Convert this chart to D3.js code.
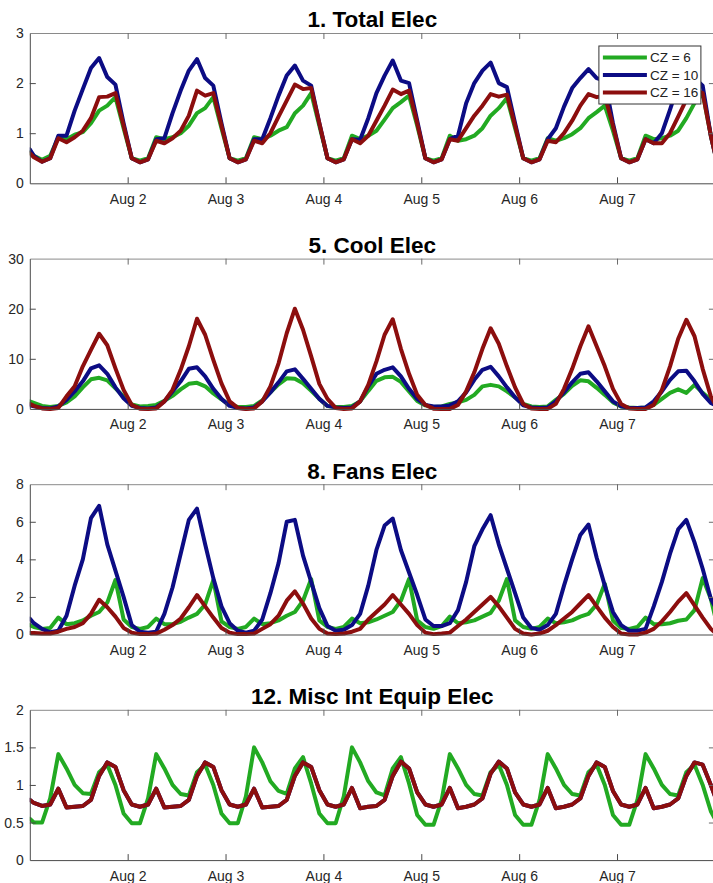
<!DOCTYPE html>
<html>
<head>
<meta charset="utf-8">
<script src="https://cdn.jsdelivr.net/npm/d3@7"></script>
<style>
  body { margin: 0; background: #fff; }
  svg { display: block; }
</style>
</head>
<body>
<div id="chart"></div>
<script>
// ---- data: hours since Aug 1 00:00, sampled at odd hours plus both ends
var hours = [0].concat(d3.range(1, 168, 2), [168]);

var dayHours = [24, 48, 72, 96, 120, 144];
var dayLabels = ["Aug 2", "Aug 3", "Aug 4", "Aug 5", "Aug 6", "Aug 7"];

var zoneNames = ["CZ = 6", "CZ = 10", "CZ = 16"];

// 1. Total Elec
var totalCZ6 = [0.62,
  0.55,0.47,0.55,0.92,0.88,0.97,1.02,1.2,1.45,1.55,1.72,1.1,
  0.5,0.45,0.5,0.92,0.88,0.92,1.0,1.15,1.4,1.5,1.72,1.1,
  0.5,0.45,0.5,0.92,0.88,0.95,1.05,1.12,1.4,1.55,1.8,1.15,
  0.5,0.45,0.5,0.95,0.88,0.95,1.05,1.27,1.5,1.62,1.75,1.15,
  0.5,0.45,0.5,0.95,0.85,0.88,0.95,1.1,1.35,1.5,1.7,1.1,
  0.5,0.45,0.5,0.9,0.85,0.9,0.98,1.1,1.3,1.42,1.55,1.05,
  0.5,0.45,0.5,0.95,0.88,0.9,0.95,1.05,1.3,1.6,1.8,0.95,
  0.6];
var totalCZ10 = [0.68,
  0.55,0.43,0.5,0.95,0.95,1.45,1.88,2.3,2.5,2.12,1.97,1.2,
  0.5,0.42,0.48,0.88,0.9,1.4,1.85,2.25,2.48,2.1,1.95,1.2,
  0.5,0.42,0.48,0.88,0.88,1.3,1.75,2.15,2.35,2.05,1.95,1.2,
  0.5,0.42,0.48,0.88,0.87,1.3,1.8,2.15,2.45,2.05,2.0,1.25,
  0.5,0.42,0.48,0.88,0.95,1.6,2.0,2.25,2.41,2.0,1.92,1.2,
  0.5,0.42,0.48,0.88,1.1,1.53,1.9,2.1,2.28,2.1,2.05,1.2,
  0.5,0.42,0.48,0.88,0.8,1.0,1.47,1.97,2.3,2.1,1.95,0.95,
  0.6];
var totalCZ16 = [0.6,
  0.52,0.43,0.5,0.9,0.82,0.92,1.05,1.3,1.72,1.73,1.8,1.15,
  0.5,0.42,0.48,0.85,0.8,0.9,1.05,1.35,1.85,1.75,1.8,1.15,
  0.5,0.42,0.48,0.85,0.8,1.0,1.33,1.65,1.97,1.88,1.9,1.2,
  0.5,0.42,0.48,0.88,0.8,0.95,1.25,1.55,1.87,1.78,1.85,1.2,
  0.5,0.42,0.48,0.88,0.85,1.1,1.35,1.55,1.78,1.73,1.77,1.15,
  0.5,0.42,0.48,0.85,0.82,1.0,1.25,1.55,1.78,1.72,1.75,1.15,
  0.5,0.42,0.48,0.88,0.8,0.8,1.0,1.33,1.67,1.87,1.8,0.95,
  0.6];

// 5. Cool Elec
var coolCZ6 = [1.5,
  1.2,0.6,0.4,0.6,1.3,2.5,4.3,5.9,6.2,5.7,4.1,2.5,
  0.9,0.5,0.6,0.8,1.6,2.6,3.9,5.0,5.2,4.5,3.1,1.9,
  0.8,0.4,0.4,0.6,1.7,3.3,4.9,6.1,6.0,5.1,3.6,2.0,
  0.6,0.4,0.4,0.6,1.5,3.6,5.6,6.3,6.4,5.4,3.5,1.6,
  0.7,0.4,0.5,1.0,1.3,1.8,2.8,4.5,4.8,4.5,3.5,2.3,
  1.0,0.5,0.4,0.5,1.8,3.0,4.6,5.7,5.5,4.2,2.8,1.3,
  0.5,0.3,0.2,0.3,0.8,2.0,3.2,3.9,3.2,4.8,3.2,1.8,
  1.2];
var coolCZ10 = [0.7,
  0.5,0.2,0.1,0.5,1.8,3.5,5.5,8.1,8.7,7.0,4.3,2.1,
  0.6,0.2,0.1,0.3,1.5,3.5,5.5,8.0,8.3,6.5,4.0,2.0,
  0.6,0.2,0.1,0.3,1.5,3.3,5.3,7.5,7.9,6.0,4.0,2.0,
  0.6,0.3,0.2,0.3,1.5,4.5,7.0,7.8,8.3,6.5,4.0,2.0,
  0.8,0.5,0.5,0.7,1.5,3.3,5.8,7.8,8.4,6.5,4.3,2.3,
  0.7,0.3,0.2,0.3,1.5,3.3,5.3,7.0,7.3,5.5,3.5,1.5,
  0.5,0.2,0.2,0.3,1.5,3.5,5.8,7.5,7.6,5.5,3.0,1.2,
  0.8];
var coolCZ16 = [1.0,
  0.6,0.1,0.0,0.2,2.5,4.5,8.5,11.8,15.0,12.7,8.1,3.8,
  0.8,0.05,0.0,0.1,1.5,3.8,7.8,12.5,18.0,14.8,9.8,5.1,
  1.5,0.2,0.0,0.1,1.5,4.5,9.1,15.1,20.0,15.8,10.5,5.0,
  2.0,0.2,0.0,0.1,1.5,4.8,9.5,14.8,17.9,12.0,7.0,2.8,
  0.8,0.05,0.0,0.0,0.8,3.5,7.3,12.0,16.1,13.0,8.5,4.3,
  1.0,0.1,0.0,0.0,1.0,4.0,8.0,12.5,16.5,12.5,8.5,4.0,
  1.0,0.1,0.0,0.0,0.8,3.8,8.5,14.0,17.8,14.5,8.0,2.5,
  1.0];

// 8. Fans Elec
var fansCZ6 = [0.5,
  0.4,0.3,0.35,0.9,0.55,0.6,0.75,1.0,1.2,1.7,2.9,0.8,
  0.4,0.3,0.4,0.85,0.55,0.55,0.68,0.9,1.1,1.6,2.9,0.7,
  0.4,0.3,0.4,0.85,0.55,0.6,0.75,1.0,1.2,1.8,2.95,0.75,
  0.4,0.3,0.4,0.85,0.6,0.65,0.8,1.0,1.2,1.8,2.95,0.75,
  0.4,0.3,0.45,0.95,0.6,0.65,0.75,0.95,1.15,1.8,2.95,0.75,
  0.4,0.3,0.4,0.85,0.6,0.65,0.75,0.95,1.1,1.6,2.7,0.75,
  0.35,0.3,0.4,0.9,0.55,0.55,0.6,0.73,0.8,1.3,3.0,1.9,
  1.0];
var fansCZ10 = [0.85,
  0.6,0.3,0.12,0.2,1.0,2.6,4.0,6.2,6.85,4.8,3.4,2.0,
  0.5,0.15,0.1,0.15,1.1,2.5,4.3,6.1,6.7,4.8,3.0,1.5,
  0.6,0.2,0.1,0.2,0.8,2.2,3.8,6.0,6.1,4.2,2.8,1.4,
  0.45,0.2,0.25,0.5,1.1,2.6,4.5,5.8,6.17,4.5,3.3,2.1,
  0.8,0.45,0.45,0.6,1.3,2.8,4.7,5.6,6.35,4.8,3.5,2.2,
  0.9,0.35,0.25,0.5,1.1,2.6,4.0,5.3,5.85,4.1,2.6,1.2,
  0.5,0.2,0.2,0.3,1.5,2.8,4.3,5.6,6.1,4.9,3.5,1.9,
  1.5];
var fansCZ16 = [0.08,
  0.08,0.05,0.05,0.15,0.3,0.4,0.6,1.1,1.85,1.45,0.95,0.35,
  0.1,0.02,0.02,0.05,0.25,0.5,0.85,1.45,2.1,1.5,0.9,0.35,
  0.1,0.02,0.02,0.05,0.3,0.55,1.0,1.8,2.3,1.65,0.85,0.3,
  0.05,0.02,0.05,0.15,0.3,0.8,1.2,1.6,2.1,1.6,1.1,0.5,
  0.1,0.02,0.05,0.1,0.45,0.8,1.2,1.6,2.0,1.5,0.9,0.3,
  0.05,0.0,0.05,0.2,0.5,0.85,1.2,1.65,2.1,1.5,0.9,0.4,
  0.05,0.0,0.0,0.1,0.3,0.7,1.2,1.75,2.2,1.55,0.9,0.3,
  0.1];

// 12. Misc Int Equip Elec (CZ = 10 lies under CZ = 16)
var miscCZ6 = [0.55,
  0.5,0.5,0.82,1.41,1.22,1.0,0.89,0.88,1.17,1.27,1.0,0.62,
  0.49,0.49,0.82,1.41,1.22,1.0,0.88,0.86,1.17,1.27,1.0,0.62,
  0.49,0.49,0.85,1.5,1.3,1.05,0.92,0.88,1.22,1.37,1.02,0.62,
  0.49,0.49,0.85,1.5,1.3,1.05,0.9,0.86,1.22,1.37,1.02,0.6,
  0.47,0.47,0.8,1.41,1.22,1.0,0.88,0.86,1.17,1.27,1.0,0.6,
  0.47,0.47,0.8,1.41,1.22,1.0,0.88,0.86,1.17,1.27,1.0,0.6,
  0.47,0.47,0.8,1.41,1.22,1.0,0.88,0.86,1.17,1.27,1.0,0.65,
  0.55];
var miscCZ16 = [0.8,
  0.76,0.72,0.74,0.95,0.7,0.71,0.72,0.8,1.12,1.3,1.24,0.93,
  0.74,0.71,0.74,0.95,0.7,0.71,0.72,0.8,1.12,1.3,1.24,0.93,
  0.74,0.71,0.74,0.95,0.7,0.71,0.72,0.8,1.12,1.3,1.24,0.93,
  0.74,0.71,0.74,0.96,0.69,0.71,0.72,0.8,1.12,1.31,1.22,0.9,
  0.74,0.71,0.74,0.96,0.69,0.71,0.74,0.82,1.15,1.31,1.22,0.9,
  0.74,0.71,0.74,0.96,0.69,0.71,0.74,0.82,1.12,1.3,1.24,0.92,
  0.74,0.71,0.74,0.96,0.69,0.71,0.74,0.82,1.12,1.3,1.27,1.0,
  0.85];
var miscCZ10 = miscCZ16;

var panelTitles = ["1. Total Elec", "5. Cool Elec", "8. Fans Elec", "12. Misc Int Equip Elec"];
var panelTicks = [[0, 1, 2, 3], [0, 10, 20, 30], [0, 2, 4, 6, 8], [0, 0.5, 1, 1.5, 2]];
var panelSeries = [
  [totalCZ6, totalCZ10, totalCZ16],
  [coolCZ6, coolCZ10, coolCZ16],
  [fansCZ6, fansCZ10, fansCZ16],
  [miscCZ6, miscCZ10, miscCZ16]
];

// ---- plotting setup
var W = 713, H = 883;
var left = 29.8, right = 714.9;
var firstTop = 33, panelStep = 225.6, panelH = 150.3;
var colors = ["#22aa22", "#0c0c84", "#8c0e0e"];
var lineW = 4;
var fontFam = "Arial, 'Liberation Sans', Helvetica, sans-serif";

var svg = d3.select("#chart")
  .append("svg")
    .attr("width", W)
    .attr("height", H)
    .style("font-family", fontFam);

var xScale = d3.scaleLinear()
    .domain([0, 168])
    .range([left, right]);

panelTitles.forEach(function(title, p) {
  var top = firstTop + p * panelStep;
  var bottom = top + panelH;
  var ticks = panelTicks[p];

  var yScale = d3.scaleLinear()
      .domain([0, ticks[ticks.length - 1]])
      .range([bottom, top]);

  var g = svg.append("g");

  // clip the lines to the axes box (a little slack top/bottom for line width)
  var clipId = "clip" + p;
  g.append("clipPath").attr("id", clipId)
    .append("rect")
      .attr("x", left).attr("y", top - 3)
      .attr("width", right - left).attr("height", panelH + 6);

  var line = d3.line()
      .x(function(d, i) { return xScale(hours[i]); })
      .y(function(d) { return yScale(d); });

  var lines = g.append("g").attr("clip-path", "url(#" + clipId + ")");
  panelSeries[p].forEach(function(series, s) {
    lines.append("path")
      .datum(series)
      .attr("fill", "none")
      .attr("stroke", colors[s])
      .attr("stroke-width", lineW)
      .attr("stroke-linejoin", "round")
      .attr("stroke-linecap", "round")
      .attr("d", line);
  });

  // axes, ticks inward like matlab
  var xAxis = g.append("g")
      .attr("transform", "translate(0," + bottom + ")")
      .call(d3.axisBottom(xScale).tickValues(dayHours)
        .tickFormat(function(d, i) { return dayLabels[i]; })
        .tickSizeInner(-6).tickSizeOuter(0).tickPadding(10.5));
  var xTop = g.append("g")
      .attr("transform", "translate(0," + top + ")")
      .call(d3.axisTop(xScale).tickValues(dayHours).tickFormat("")
        .tickSizeInner(-6).tickSizeOuter(0));
  var yAxis = g.append("g")
      .attr("transform", "translate(" + left + ",0)")
      .call(d3.axisLeft(yScale).tickValues(ticks)
        .tickFormat(d3.format("~g"))
        .tickSizeInner(-6).tickSizeOuter(0).tickPadding(6));
  var yRight = g.append("g")
      .attr("transform", "translate(" + right + ",0)")
      .call(d3.axisRight(yScale).tickValues(ticks).tickFormat("")
        .tickSizeInner(-6).tickSizeOuter(0));

  [xAxis, yAxis].forEach(function(a) {
    a.select(".domain").attr("stroke", "#4a4a4a");
    a.selectAll(".tick line").attr("stroke", "#4a4a4a");
    a.selectAll("text")
      .attr("font-family", fontFam)
      .attr("font-size", 14)
      .attr("fill", "#262626");
  });
  [xTop, yRight].forEach(function(a) {
    a.select(".domain").attr("stroke", "#8a8a8a");
    a.selectAll(".tick line").attr("stroke", "#6a6a6a");
  });
  // hide end ticks that sit on the box edges
  yAxis.selectAll(".tick line").attr("opacity", function(d) { return (d === 0 || d === ticks[ticks.length - 1]) ? 0 : 1; });
  yRight.selectAll(".tick line").attr("opacity", function(d) { return (d === 0 || d === ticks[ticks.length - 1]) ? 0 : 1; });

  g.append("text")
    .attr("x", (left + right) / 2)
    .attr("y", top - 5.6)
    .attr("text-anchor", "middle")
    .attr("font-family", fontFam)
    .attr("font-weight", "bold")
    .attr("font-size", 22.5)
    .attr("fill", "#000")
    .text(title);

  // legend only on the first panel
  if (p === 0) {
    var lg = g.append("g").attr("transform", "translate(" + (right - 116) + "," + (top + 13) + ")");
    lg.append("rect")
      .attr("width", 102).attr("height", 58)
      .attr("fill", "#fff").attr("stroke", "#333").attr("stroke-width", 1);
    zoneNames.forEach(function(name, s) {
      var yy = 11.5 + s * 17.5;
      lg.append("line")
        .attr("x1", 4).attr("x2", 48).attr("y1", yy).attr("y2", yy)
        .attr("stroke", colors[s]).attr("stroke-width", lineW);
      lg.append("text")
        .attr("x", 51).attr("y", yy).attr("dy", "0.35em")
        .attr("font-size", 13.5).attr("fill", "#222")
        .text(name);
    });
  }
});
</script>
</body>
</html>
